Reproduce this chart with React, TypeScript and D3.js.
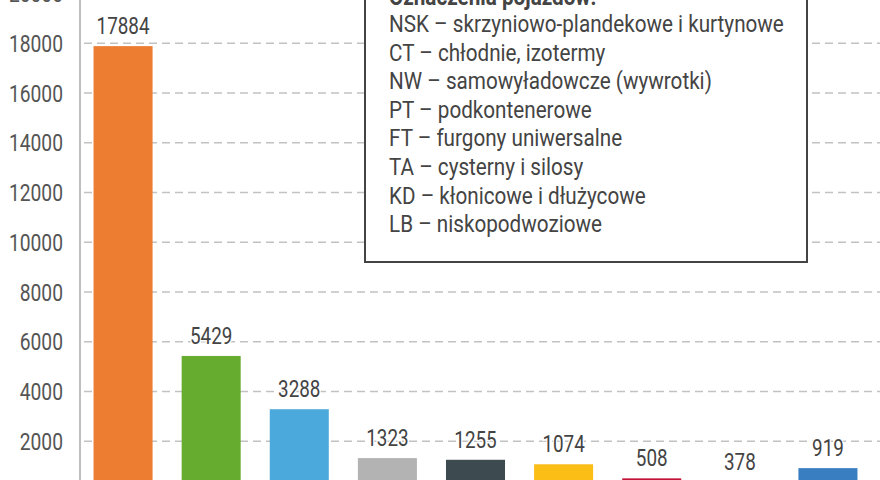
import React from "react";
import * as d3 from "d3";

const categories = ["NSK", "CT", "NW", "PT", "FT", "TA", "KD", "LB", "Inne"];
const values = [17884, 5429, 3288, 1323, 1255, 1074, 508, 378, 919];
const colors = ["#ED7D31", "#66AC2F", "#4BAADB", "#B3B3B3", "#3D4A4F", "#FBBE17", "#C41237", "#F7F1DD", "#3A7EC2"];
const yTicks = [0, 2000, 4000, 6000, 8000, 10000, 12000, 14000, 16000, 18000, 20000];
const legendTitle = "Oznaczenia pojazdów:";
const legendLines = [
  "NSK – skrzyniowo-plandekowe i kurtynowe",
  "CT – chłodnie, izotermy",
  "NW – samowyładowcze (wywrotki)",
  "PT – podkontenerowe",
  "FT – furgony uniwersalne",
  "TA – cysterny i silosy",
  "KD – kłonicowe i dłużycowe",
  "LB – niskopodwoziowe",
];

const W = 880;
const H = 480;
const FONT = "Roboto, 'Noto Sans', sans-serif";
const SX = 0.82;
const LSX = 0.88;

export default function App() {
  const x = d3.scaleBand<string>().domain(categories).range([79, 872]).paddingInner(0.33).paddingOuter(0.165);
  const y = d3.scaleLinear().domain([0, 20000]).range([491, -6.5]);
  const axisX = 80;

  return (
    <svg width={W} height={H} style={{ position: "absolute", left: 0, top: 0, background: "#fff" }} fontFamily={FONT}>
      <rect x={0} y={0} width={W} height={H} fill="#fff" />
      {yTicks.map((t) => (
        <line key={"g" + t} x1={axisX + 4} x2={W} y1={y(t)} y2={y(t)} stroke="#C2C2C2" strokeWidth={1.5} strokeDasharray="8,5" />
      ))}
      {categories.map((c, i) => (
        <rect key={c} x={x(c)} y={y(values[i])} width={x.bandwidth()} height={y(0) - y(values[i])} fill={colors[i]} />
      ))}
      <line x1={axisX} x2={axisX} y1={-10} y2={y(0)} stroke="#A8A8A8" strokeWidth={1.5} />
      {yTicks.map((t) => (
        <text key={"t" + t} transform={`translate(63,${y(t) + 8.5}) scale(${SX},1)`} textAnchor="end" fontSize={23.5} fill="#555">
          {t}
        </text>
      ))}
      {categories.map((c, i) => (
        <text
          key={"v" + c}
          transform={`translate(${(x(c) as number) + x.bandwidth() / 2},${y(values[i]) - 12}) scale(${SX},1)`}
          textAnchor="middle"
          fontSize={23}
          fill="#444"
          stroke="#fff"
          strokeWidth={3}
          paintOrder="stroke"
        >
          {values[i]}
        </text>
      ))}
      <rect x={365} y={-40} width={442} height={302} fill="#fff" stroke="#444" strokeWidth={2} />
      <text transform={`translate(389,5) scale(${LSX},1)`} fontSize={23.5} fontWeight="bold" fill="#444">
        {legendTitle}
      </text>
      {legendLines.map((l, i) => (
        <text key={l} transform={`translate(389,${32 + i * 28.6}) scale(${LSX},1)`} fontSize={23.5} fill="#444">
          {l}
        </text>
      ))}
    </svg>
  );
}
